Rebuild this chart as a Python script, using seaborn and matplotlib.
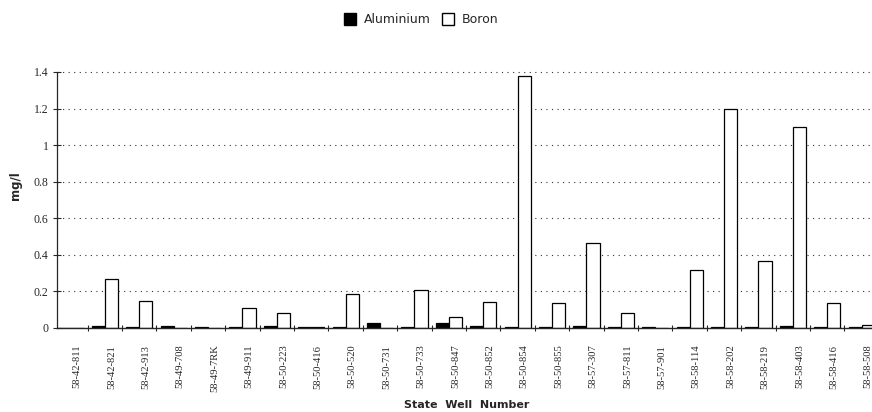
import numpy as np
import pandas as pd
import matplotlib
matplotlib.use("Agg")
import matplotlib.pyplot as plt
from matplotlib.patches import Patch
from matplotlib.ticker import FuncFormatter, FixedLocator
import seaborn as sns

# well numbers as printed under the bars
wells = [
    "58-42-811", "58-42-821", "58-42-913", "58-49-708", "58-49-7RK", "58-49-911",
    "58-50-223", "58-50-416", "58-50-520", "58-50-731", "58-50-733", "58-50-847",
    "58-50-852", "58-50-854", "58-50-855", "58-57-307", "58-57-811", "58-57-901",
    "58-58-114", "58-58-202", "58-58-219", "58-58-403", "58-58-416", "58-58-508",
]
# concentrations in mg/l
aluminium = [0.0, 0.01, 0.005, 0.01, 0.003, 0.008, 0.012, 0.005, 0.008, 0.025, 0.008, 0.03,
             0.01, 0.003, 0.005, 0.012, 0.005, 0.003, 0.008, 0.003, 0.003, 0.01, 0.003, 0.003]
boron = [0.0, 0.27, 0.15, 0.0, 0.0, 0.11, 0.083, 0.003, 0.185, 0.0, 0.21, 0.06,
         0.14, 1.38, 0.136, 0.465, 0.08, 0.0, 0.315, 1.2, 0.365, 1.1, 0.136, 0.018]
y_ticks = [0, 0.2, 0.4, 0.6, 0.8, 1.0, 1.2, 1.4]

df = pd.DataFrame({
    "well": wells * 2,
    "element": ["Aluminium"] * len(wells) + ["Boron"] * len(wells),
    "value": aluminium + boron,
})

sns.set_style("ticks")
serif = "Liberation Serif"
sans = "DejaVu Sans"

fig = plt.figure(figsize=(8.72, 4.12), dpi=100)
# axes run slightly past the right edge, like the scan
ax = fig.add_axes([56.7 / 872, 84 / 412, 24 * 34.4 / 872, 256 / 412])

sns.barplot(
    data=df, x="well", y="value", hue="element", order=wells,
    hue_order=["Aluminium", "Boron"],
    palette={"Aluminium": "black", "Boron": "white"},
    edgecolor="black", linewidth=0.9, width=0.76, legend=False, ax=ax,
)

ax.set_xlim(-0.4, 23.6)
ax.set_ylim(0, 1.4)

# dotted horizontal grid
for v in y_ticks[1:]:
    ax.axhline(v, color="#333333", lw=0.8, ls=(0, (1, 4)), zorder=0, clip_on=False)

ax.yaxis.set_major_locator(FixedLocator(y_ticks))
ax.yaxis.set_major_formatter(FuncFormatter(lambda v, p: f"{v:g}"))
ax.tick_params(axis="y", direction="inout", length=6, width=0.8, labelsize=8.5, pad=3)
for t in ax.get_yticklabels():
    t.set_fontfamily(serif)

ax.set_xticks(np.arange(len(wells)) + 0.19)
ax.set_xticklabels(wells, rotation=90, fontfamily=serif, fontsize=7.6)
ax.tick_params(axis="x", length=0, pad=12)
ax.xaxis.set_minor_locator(FixedLocator(np.arange(len(wells)) + 0.5))
ax.tick_params(axis="x", which="minor", direction="inout", length=5, width=0.8)

ax.set_xlabel("")
ax.set_ylabel("")
for s in ["top", "right"]:
    ax.spines[s].set_visible(False)
ax.spines["left"].set_linewidth(0.9)
ax.spines["bottom"].set_linewidth(1.0)

fig.text(0.535, 0.005, "State  Well  Number", ha="center", va="bottom",
         fontfamily=sans, fontweight="bold", fontsize=8)
fig.text(0.018, 0.55, "mg/l", ha="center", va="center", rotation=90,
         fontfamily=sans, fontweight="bold", fontsize=8.5)

handles = [Patch(facecolor="black", edgecolor="black", label="Aluminium"),
           Patch(facecolor="white", edgecolor="black", label="Boron")]
fig.legend(handles=handles, loc="upper center", bbox_to_anchor=(0.483, 0.995), ncol=2,
           frameon=False, handlelength=1.0, handleheight=1.0, handletextpad=0.6,
           columnspacing=0.9, prop={"family": sans, "size": 9})

fig.savefig("out.png", dpi=100)
